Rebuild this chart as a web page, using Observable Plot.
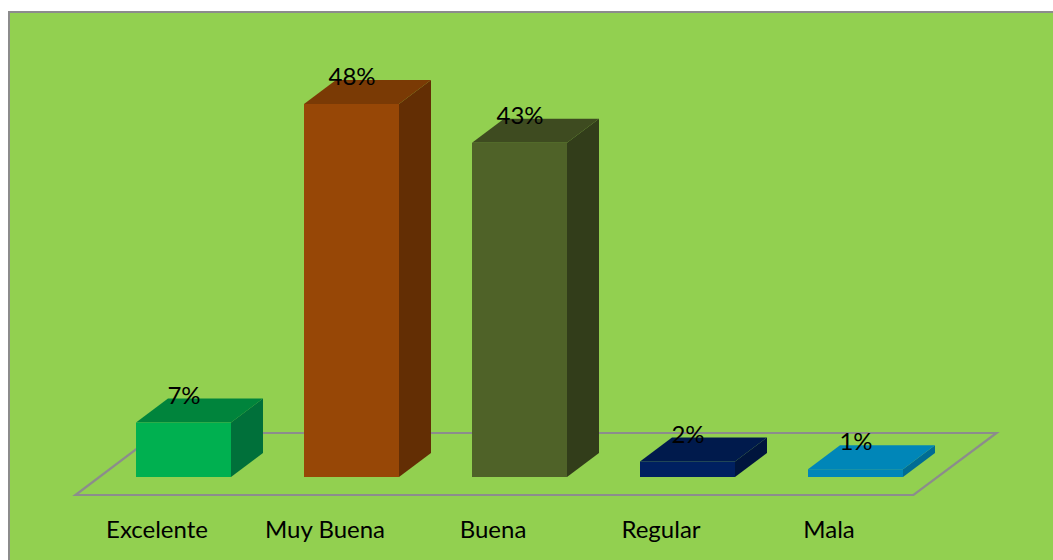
<!DOCTYPE html>
<html><head><meta charset="utf-8">
<script src="https://cdn.jsdelivr.net/npm/d3@7"></script>
<script src="https://cdn.jsdelivr.net/npm/@observablehq/plot@0.6"></script>
<style>
html,body{margin:0;padding:0;background:#fff;overflow:hidden;width:1053px;height:560px;}
#bg{position:absolute;left:8px;top:11px;width:1100px;height:600px;background:#92D050;border-left:2px solid #8c8c8c;border-top:2px solid #8c8c8c;}
#chart{position:absolute;left:0;top:0;}
</style></head><body>
<div id="bg"></div><div id="chart"></div>
<script>
const categories = ["Excelente","Muy Buena","Buena","Regular","Mala"];
const percents = [7, 48, 43, 2, 1];
const labels = percents.map(v => v + "%");

const frontColors = ["#00B050","#974706","#4F6228","#002060","#0086B8"];
const topColors   = ["#00843C","#7A3A05","#3E4B20","#001A4C","#0086B8"];
const sideColors  = ["#00703A","#632E04","#323D1A","#00153D","#006C94"];

const data = categories.map((c, i) => ({category: c, value: percents[i], label: labels[i]}));
const DX = 32, DY = -24;

function floorMark(index, scales, values, dimensions) {
  const x0 = dimensions.marginLeft, x1 = dimensions.width - dimensions.marginRight;
  const y0 = scales.y(0);
  const g = d3.create("svg:g");
  g.append("path")
    .attr("d", `M${x0-24},${y0+18}L${x1-26},${y0+18}L${x1+57},${y0-44}L${x0+58},${y0-44}Z`)
    .attr("fill", "none").attr("stroke", "#8c8c8c").attr("stroke-width", 2.2);
  return g.node();
}

function boxMark(index, scales, values, dimensions) {
  const bw = typeof scales.x.bandwidth === "function" ? scales.x.bandwidth() : scales.scales.x.bandwidth;
  const yb = scales.y(0);
  const g = d3.create("svg:g");
  data.forEach((d, i) => {
    const x0 = scales.x(d.category), x1 = x0 + bw, yt = scales.y(d.value);
    g.append("path")
      .attr("d", `M${x1},${yt}L${x1+DX},${yt+DY}L${x1+DX},${yb+DY}L${x1},${yb}Z`)
      .attr("fill", sideColors[i]);
    g.append("path")
      .attr("d", `M${x0},${yt}L${x1},${yt}L${x1+DX},${yt+DY}L${x0+DX},${yt+DY}Z`)
      .attr("fill", topColors[i]);
  });
  return g.node();
}

const chart = Plot.plot({
  width: 1053, height: 560,
  marginLeft: 99.5, marginRight: 113.5, marginTop: 20, marginBottom: 83,
  style: {background: "transparent", fontFamily: "Lato", fontSize: "24px", color: "#000"},
  x: {domain: categories, paddingInner: 0.435, paddingOuter: 0.2175, label: null},
  y: {domain: [0, 48], range: [477, 104], axis: null},
  color: {domain: categories, range: frontColors},
  marks: [
    floorMark,
    boxMark,
    Plot.barY(data, {x: "category", y: "value", fill: "category"}),
    Plot.text(data, {x: "category", y: "value", text: "label", dy: -27, fontSize: 24, fill: "black"}),
    Plot.axisX({tickSize: 0, tickPadding: 43, dx: -27, fontSize: 24, label: null})
  ]
});
document.getElementById("chart").appendChild(chart);
</script>
</body></html>
